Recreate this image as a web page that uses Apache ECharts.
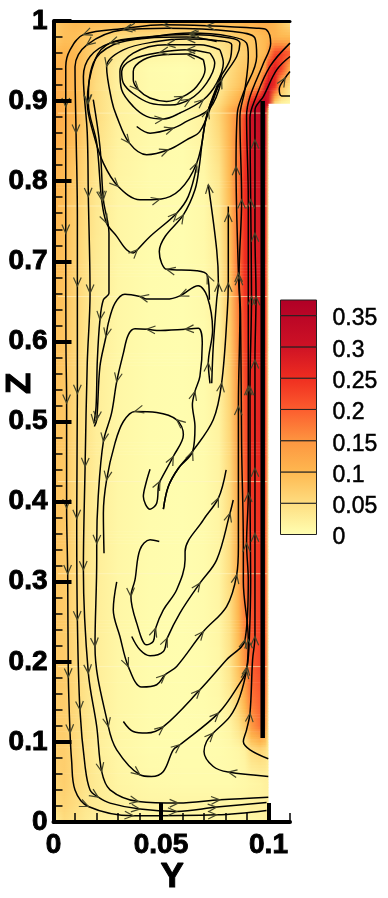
<!DOCTYPE html>
<html>
<head>
<meta charset="utf-8">
<style>html,body{margin:0;padding:0;background:#fff}#chart{width:388px;height:898px}</style>
<script src="https://cdn.jsdelivr.net/npm/echarts@6/dist/echarts.min.js"></script>
</head>
<body>
<div id="chart"></div>
<script>
// colour scale
var scaleValues = [0, 0.05, 0.1, 0.15, 0.2, 0.25, 0.3, 0.375];
var scaleColors = ['#FFFFB2', '#FEDD80', '#FEB850', '#FD9540', '#FC5C2E', '#EF2D20', '#CE1225', '#B00026'];
var colorbarLevels = [0, 0.05, 0.1, 0.15, 0.2, 0.25, 0.3, 0.35, 0.375];

// contour field
var fieldY = [0, 0.005, 0.01, 0.015, 0.02, 0.03, 0.045, 0.06, 0.07, 0.077, 0.082, 0.086, 0.089, 0.092, 0.096, 0.0985, 0.1, 0.103, 0.106, 0.11];
var fieldZ = [0, 0.02, 0.05, 0.09, 0.12, 0.16, 0.2, 0.3, 0.4, 0.5, 0.6, 0.7, 0.8, 0.88, 0.89, 0.8975, 0.92, 0.94, 0.96, 0.98, 1];
var fieldRows = [
    [.02, .05, .04, .03, .02, .015, .01, .01, .01, .01, .01, .01, .01, .01, .015, .02, .02],
    [.05, .06, .05, .035, .03, .02, .015, .015, .015, .015, .015, .015, .015, .02, .02, .02, .02],
    [.06, .07, .055, .04, .03, .015, .008, .006, .006, .006, .006, .008, .01, .012, .015, .02, .02],
    [.07, .07, .055, .04, .025, .012, .005, .004, .004, .005, .008, .012, .02, .05, .06, .05, .03],
    [.072, .07, .055, .04, .025, .012, .005, .003, .004, .006, .015, .04, .07, .14, .18, .15, .03],
    [.075, .072, .055, .04, .025, .012, .005, .003, .005, .01, .03, .07, .12, .18, .2, .18, .03],
    [.078, .074, .055, .04, .025, .012, .005, .003, .005, .012, .04, .09, .15, .2, .22, .2, .03],
    [.082, .076, .055, .04, .025, .012, .005, .003, .006, .015, .05, .11, .18, .22, .24, .21, .03],
    [.085, .08, .055, .04, .025, .012, .005, .003, .006, .015, .05, .12, .19, .24, .25, .22, .03],
    [.085, .08, .055, .04, .025, .012, .005, .003, .006, .018, .06, .14, .21, .25, .27, .24, .03],
    [.09, .082, .06, .04, .025, .012, .005, .003, .006, .02, .07, .16, .23, .26, .27, .25, .03],
    [.095, .088, .065, .045, .03, .012, .005, .003, .008, .025, .085, .18, .25, .27, .28, .26, .03],
    [.105, .095, .075, .055, .035, .015, .006, .004, .01, .035, .1, .18, .25, .28, .3, .28, .04],
    [.12, .11, .1, .07, .05, .02, .008, .006, .02, .06, .11, .16, .23, .3, .33, .33, .05],
    [.12, .11, .1, .07, .05, .02, .008, .006, .025, .06, .11, .15, .2, .3, .34, .34, .1],
    [.12, .11, .1, .075, .05, .02, .008, .006, .02, .05, .09, .12, .17, .27, .33, .35, .28, .05, .02, .01],
    [.115, .11, .1, .075, .05, .02, .006, .004, .01, .03, .06, .08, .1, .12, .15, .27, .31, .25, .1, .04],
    [.11, .11, .1, .08, .055, .02, .005, .002, .006, .02, .05, .07, .08, .09, .11, .15, .24, .28, .22, .1],
    [.1, .105, .1, .08, .06, .03, .015, .01, .015, .03, .05, .06, .07, .08, .09, .1, .15, .22, .23, .2],
    [.07, .09, .09, .08, .07, .05, .045, .04, .04, .05, .06, .07, .08, .08, .09, .1, .1, .11, .1, .1],
    [.08, .09, .1, .1, .1, .1, .1, .1, .1, .1, .1, .1, .11, .11, .12, .12, .12, .1, .08, .05]
];
var streakZ = [0.885, 0.769, 0.656, 0.425, 0.31, 0.194];
var wallLine = [[0.0973, 0.105], [0.0973, 0.9]];

// streamlines [y, z], third value 1 = arrow head there
var streamA = [[.0325,.1255],[.0371,.113],[.0433,.111],[.0511,.119,1],[.0681,.165,1],[.0805,.2025],[.0891,.2275,1],[.0906,.302],[.0898,.348,1],[.0906,.4105,1],[.0906,.5437,1],[.0906,.652],[.0906,.6935],[.0906,.777],[.0898,.881],[.0914,.9057],[.0976,.947],[.101,.972],[.0991,.989],[.0945,.991],[.0712,.994,1],[.0511,.9952,1],[.034,.991,1],[.0139,.983,1],[.0077,.964],[.0057,.943],[.0057,.893,1],[.0057,.818],[.0057,.735,1],[.0058,.594],[.0061,.523,1],[.0061,.392,1],[.0066,.31,1],[.0069,.181,1],[.0077,.111,1],[.0084,.0776],[.01,.04],[.0162,.0194,1],[.0371,.0078,1],[.0759,.009,1],[.0991,.0145]];
var streamB = [[.0294,.2999],[.0278,.265],[.0309,.2316],[.0348,.194,1],[.041,.1684],[.048,.1713],[.0519,.1838,1],[.0573,.1942],[.0697,.2378,1],[.0805,.269],[.0852,.3086,1],[.086,.344],[.086,.4688],[.086,.5188,1],[.0867,.6353],[.086,.6852,1],[.0849,.8184,1],[.0855,.885],[.0883,.91],[.0945,.9557],[.0937,.9786],[.0836,.9869],[.0526,.991],[.0325,.989,1],[.0154,.97,1],[.01,.943],[.0105,.86,1],[.0111,.757],[.0111,.669,1],[.0111,.535,1],[.0108,.379,1],[.0111,.2525,1],[.0123,.14,1],[.0147,.0693],[.017,.04],[.0208,.031,1],[.0263,.0236],[.0402,.0161,1],[.0573,.0132,1],[.0759,.0186,1],[.0991,.0244]];
var streamC = [[.0511,.3906],[.0534,.4189],[.0581,.4417],[.0647,.4625,1],[.0658,.4938],[.0646,.5208],[.0658,.5375,1],[.0681,.5563],[.0692,.5979],[.0673,.6164],[.0612,.6152,1],[.048,.6136],[.0433,.6152,1],[.0379,.6157],[.0348,.6082],[.0325,.5853],[.0294,.5499,1],[.027,.5104],[.0232,.4749,1],[.0208,.4063],[.0201,.3476,1],[.0201,.3273],[.0193,.2191,1],[.0255,.1193,1],[.0294,.0901],[.0402,.059,1],[.0456,.0568],[.0511,.0631],[.0557,.0901],[.0588,.0964,1],[.0767,.1359,1],[.0867,.1734],[.0898,.19,1],[.0906,.2275,1],[.0883,.3],[.0883,.344],[.0875,.4688],[.087,.635],[.0863,.681,1],[.0875,.7768,1],[.0867,.8808],[.089,.914],[.0906,.9557],[.0898,.9724],[.0821,.9808],[.0635,.9849,1],[.0418,.9787],[.0263,.9724,1],[.017,.9557],[.0139,.9307],[.0157,.86],[.0162,.7809,1],[.017,.6602,1],[.0157,.5729],[.0147,.4438,1],[.0139,.3149,1],[.0162,.1858,1],[.0201,.1192],[.0224,.0631,1],[.0263,.0402],[.0395,.0256,1],[.0581,.0236,1],[.0774,.0277,1],[.0999,.031]];
var streamD = [[.0185,.9017],[.0216,.8433],[.0232,.7768,1],[.0258,.7352],[.0258,.6602],[.0232,.6519],[.0216,.6269,1],[.0204,.577],[.0198,.5188],[.0188,.498,1]];
var streamE = [[.0697,.86],[.072,.889],[.0782,.9265],[.0852,.9557],[.0867,.9724],[.0821,.9787],[.0635,.983,1],[.0433,.98],[.0263,.9724],[.0193,.9515],[.0157,.8974,1],[.0185,.86],[.0232,.8225],[.0301,.7934,1],[.0402,.7768],[.0495,.7776,1],[.0588,.7893],[.0666,.8225,1],[.07,.864]];
var streamF = [[.0759,.9745],[.0619,.9799],[.0433,.9786],[.0278,.9703],[.0185,.9474],[.0162,.8974,1],[.0201,.8477],[.0224,.7768,1],[.0247,.7477,1],[.0294,.7311],[.034,.7144],[.0371,.7103],[.039,.7144,1],[.0449,.731],[.0573,.7601,1],[.0627,.781],[.0666,.8184]];
var streamG = [[.0725,.6519],[.0715,.6829,1],[.0666,.6883],[.0526,.69,1],[.0503,.6976],[.0492,.7123],[.0519,.731],[.0604,.7579,1],[.0658,.7892],[.0678,.8184],[.0697,.86],[.072,.889,1],[.0782,.9328]];
var streamH = [[.0728,.5477],[.072,.573,1],[.074,.6145],[.0715,.6561],[.0673,.6694],[.0588,.6569,1],[.0526,.6528],[.0433,.6528],[.0402,.6561,1],[.0332,.659],[.0286,.6478],[.0255,.6228],[.0244,.6061,1],[.0216,.5687],[.0201,.5021,1],[.019,.4938]];
var streamI = [[.0736,.5477],[.0743,.5937],[.0759,.652],[.0767,.6727,1],[.0759,.7144],[.072,.7955,1]];
var streamJ = [[.0511,.3906],[.0534,.4189],[.0581,.4417],[.065,.4639],[.0743,.5021],[.0782,.5478,1],[.0808,.6353],[.0813,.6727,1],[.0813,.76,1],[.0813,.7684]];
var streamK = [[.0449,.4404],[.043,.4229],[.0418,.4063],[.0449,.3906],[.048,.398],[.0488,.4189],[.0495,.4252,1],[.0557,.4563,1],[.0604,.4834],[.0573,.5021,1],[.048,.5113],[.0379,.5126,1],[.0325,.5],[.0286,.473],[.0247,.4272,1],[.0232,.3856],[.0235,.3356]];
var streamL = [[.0697,.9516],[.0619,.9587,1],[.0511,.9578],[.0418,.9516],[.0371,.9371],[.0371,.9266],[.0395,.9141,1],[.0449,.9038],[.0526,.8996],[.0604,.9059,1],[.0666,.9183],[.0705,.9391],[.0697,.9516]];
var streamM = [[.0728,.9599],[.0619,.9641,1],[.0495,.9608,1],[.0371,.9525],[.0317,.9371],[.0325,.9225],[.0371,.9092],[.0449,.8975],[.0542,.895],[.0635,.9024,1],[.0712,.9225],[.075,.9475],[.0728,.9599]];
var streamN = [[.0782,.9329],[.0821,.9516],[.0829,.9703],[.0759,.9757],[.0619,.9774,1],[.048,.9744],[.0325,.964],[.0247,.9433,1],[.027,.9017],[.0294,.8809],[.0353,.8475,1],[.0433,.8331],[.0534,.8392,1],[.0619,.8517],[.0681,.8621],[.0743,.9017],[.0782,.9329]];
var streamO = [[.0774,.9641],[.0681,.9703],[.0526,.9703,1],[.0371,.9599],[.0309,.9371],[.0317,.9141],[.0371,.8933],[.0433,.881],[.0511,.8777,1],[.0588,.8851],[.0697,.9017,1],[.0759,.9225],[.079,.9475],[.0774,.9641]];
var streamP = [[.0387,.8683],[.0449,.86],[.0557,.8662,1],[.0619,.8746],[.0728,.8912],[.0782,.9265,1]];
var streamQ = [[.0999,.079],[.0914,.0901],[.0883,.1005],[.0898,.1151],[.0914,.1359,1],[.0926,.2025],[.0937,.2316,1],[.0937,.3606,1],[.0937,.4418,1],[.0937,.5769,1],[.0942,.6561,1],[.0937,.7352,1],[.0937,.8517,1],[.0937,.8886],[.0976,.9057],[.1038,.939],[.11,.9557]];
var streamR = [[.0999,.0569],[.0813,.0623,1],[.0743,.0693],[.07,.0881],[.0712,.1005],[.0743,.111,1],[.0821,.1318],[.0867,.1567],[.0901,.1942,1],[.0911,.2295],[.0917,.3023],[.0914,.4105],[.0914,.5437,1],[.0921,.6561,1],[.0917,.7768,1],[.0914,.8798],[.0937,.9017],[.1007,.9433],[.11,.9724]];
var streamS = [[.0364,.2316],[.0402,.215],[.0449,.2075],[.0511,.2129],[.0529,.2295,1],[.0588,.2608],[.0681,.2982,1],[.0759,.3273],[.0821,.3856,1],[.0836,.402]];
var streamT = [[.0492,.3502],[.0449,.3523],[.0402,.34],[.0379,.3023],[.036,.2816,1],[.0387,.2483],[.0433,.2212],[.0464,.2254],[.0475,.242,1],[.0511,.2649],[.0573,.29],[.0612,.3273],[.0612,.3376],[.0697,.3772],[.0767,.4043,1],[.0803,.4397]];
var streamU = [[.11,.9065],[.1061,.9065],[.105,.915],[.1077,.9287,1],[.11,.937]];
var streamlines = [streamA, streamB, streamC, streamD, streamE, streamF, streamG, streamH, streamI, streamJ, streamK, streamL, streamM, streamN, streamO, streamP, streamQ, streamR, streamS, streamT, streamU];

var fontName = '"Liberation Sans", Arial, sans-serif';
var ink = '#000';

function hexToRgb(h) {
    return [parseInt(h.substr(1, 2), 16), parseInt(h.substr(3, 2), 16), parseInt(h.substr(5, 2), 16)];
}
function colorOf(v) {
    var i = 0;
    while (i < scaleValues.length - 2 && v > scaleValues[i + 1]) i++;
    var t = (v - scaleValues[i]) / (scaleValues[i + 1] - scaleValues[i]);
    t = Math.max(0, Math.min(1, t));
    var a = hexToRgb(scaleColors[i]), b = hexToRgb(scaleColors[i + 1]);
    return 'rgb(' + Math.round(a[0] + (b[0] - a[0]) * t) + ',' + Math.round(a[1] + (b[1] - a[1]) * t) + ',' + Math.round(a[2] + (b[2] - a[2]) * t) + ')';
}

// one band of the field between two rows, shaded like the contour flood
function renderField(params, api) {
    var idx = api.value(0);
    var low = fieldRows[idx], high = fieldRows[idx + 1];
    var n = Math.min(low.length, high.length);
    var yEnd = fieldY[n - 1];
    var p0 = api.coord([0, fieldZ[idx]]), p1 = api.coord([yEnd, fieldZ[idx + 1]]);
    var h = p0[1] - p1[1];
    var steps = Math.max(1, Math.ceil(h / 3));
    var children = [];
    for (var k = 0; k < steps; k++) {
        var t = (k + 0.5) / steps;
        var stops = [];
        for (var j = 0; j < n; j++) {
            stops.push({offset: fieldY[j] / yEnd, color: colorOf(low[j] + (high[j] - low[j]) * t)});
        }
        var top = p0[1] - h * (k + 1) / steps;
        children.push({
            type: 'rect',
            shape: {x: p0[0], y: top, width: p1[0] - p0[0], height: h / steps + 0.6},
            style: {fill: new echarts.graphic.LinearGradient(0, 0, 1, 0, stops)}
        });
    }
    return {type: 'group', children: children};
}

function renderColorbar(params, api) {
    var lo = api.value(0), hi = api.value(1);
    var a = api.coord([0, lo]), b = api.coord([1, hi]);
    return {
        type: 'rect',
        shape: {x: a[0], y: b[1], width: b[0] - a[0], height: a[1] - b[1]},
        style: {
            fill: new echarts.graphic.LinearGradient(0, 0, 0, 1, [
                {offset: 0, color: colorOf(hi)},
                {offset: 1, color: colorOf(lo)}
            ]),
            stroke: '#222',
            lineWidth: 1
        }
    };
}

// open V arrow head at a streamline point
function renderArrow(params, api) {
    var tip = api.coord([api.value(0), api.value(1)]);
    var from = api.coord([api.value(2), api.value(3)]);
    var to = api.coord([api.value(4), api.value(5)]);
    var a = Math.atan2(to[1] - from[1], to[0] - from[0]);
    var len = 9.5, spread = 0.42;
    return {
        type: 'polyline',
        shape: {points: [
            [tip[0] - len * Math.cos(a - spread), tip[1] - len * Math.sin(a - spread)],
            tip,
            [tip[0] - len * Math.cos(a + spread), tip[1] - len * Math.sin(a + spread)]
        ]},
        style: {stroke: '#45452a', lineWidth: 1.2, fill: null}
    };
}

var fieldBands = [];
for (var b = 0; b < fieldRows.length - 1; b++) fieldBands.push([b]);

var colorbarBands = [];
for (var c = 0; c < colorbarLevels.length - 1; c++) colorbarBands.push([colorbarLevels[c], colorbarLevels[c + 1]]);

var arrowData = [];
streamlines.forEach(function (line) {
    line.forEach(function (p, i) {
        if (p[2]) {
            var prev = line[Math.max(0, i - 1)], next = line[Math.min(line.length - 1, i + 1)];
            arrowData.push([p[0], p[1], prev[0], prev[1], next[0], next[1]]);
        }
    });
});

var series = [{
    type: 'custom',
    xAxisIndex: 0,
    yAxisIndex: 0,
    coordinateSystem: 'cartesian2d',
    renderItem: renderField,
    data: fieldBands,
    encode: {x: -1, y: -1},
    silent: true,
    clip: false,
    z: 1
}];
streakZ.forEach(function (z) {
    series.push({
        type: 'line',
        xAxisIndex: 0,
        yAxisIndex: 0,
        data: [[0.002, z], [0.0995, z]],
        symbol: 'none',
        silent: true,
        lineStyle: {color: '#FFF6C8', width: 1, opacity: 0.6},
        z: 2
    });
});
series.push({
    type: 'line',
    xAxisIndex: 0,
    yAxisIndex: 0,
    data: wallLine,
    symbol: 'none',
    silent: true,
    lineStyle: {color: ink, width: 4.5, cap: 'butt'},
    z: 5
});
streamlines.forEach(function (line) {
    series.push({
        type: 'line',
        xAxisIndex: 0,
        yAxisIndex: 0,
        data: line.map(function (p) { return [p[0], p[1]]; }),
        symbol: 'none',
        smooth: 0.35,
        silent: true,
        lineStyle: {color: '#000', width: 1.5},
        z: 3
    });
});
series.push({
    type: 'custom',
    xAxisIndex: 0,
    yAxisIndex: 0,
    coordinateSystem: 'cartesian2d',
    renderItem: renderArrow,
    data: arrowData,
    encode: {x: 0, y: 1},
    silent: true,
    z: 4
});
series.push({
    type: 'custom',
    xAxisIndex: 3,
    yAxisIndex: 1,
    coordinateSystem: 'cartesian2d',
    renderItem: renderColorbar,
    data: colorbarBands,
    encode: {y: [0, 1]},
    silent: true,
    z: 2
});

var chart = echarts.init(document.getElementById('chart'));
var option = {
    animation: false,
    backgroundColor: '#fff',
    grid: [
        {left: 53.5, top: 21, width: 236.5, height: 801},
        {left: 280.5, top: 300, width: 36, height: 234.5, show: false},
        // colorbar labels sit a little below their levels
        {left: 280.5, top: 303.5, width: 36, height: 234.5, show: false}
    ],
    xAxis: [{
        // minor ticks
        type: 'value', gridIndex: 0, min: 0, max: 0.11, interval: 0.01, z: 6,
        splitLine: {show: false},
        axisLine: {onZero: false, lineStyle: {color: ink, width: 4}},
        axisTick: {inside: true, length: 9, lineStyle: {color: ink, width: 1.5}},
        axisLabel: {show: false}
    }, {
        // major ticks with labels
        type: 'value', gridIndex: 0, min: 0, max: 0.11, position: 'bottom', z: 6,
        splitLine: {show: false},
        axisLine: {show: false, onZero: false},
        axisTick: {show: true, inside: true, length: 19, customValues: [0, 0.05, 0.1], lineStyle: {color: ink, width: 4}},
        axisLabel: {
            customValues: [0, 0.05, 0.1], margin: 9,
            color: ink, fontFamily: fontName, fontWeight: 'bold', fontSize: 28,
            textBorderColor: ink, textBorderWidth: 0.9
        }
    }, {
        type: 'value', gridIndex: 0, min: 0, max: 0.11, position: 'top', z: 6,
        splitLine: {show: false},
        axisLine: {onZero: false, lineStyle: {color: ink, width: 3}},
        axisTick: {show: false},
        axisLabel: {show: false}
    }, {
        type: 'value', gridIndex: 1, min: 0, max: 1, show: false
    }, {
        type: 'value', gridIndex: 2, min: 0, max: 1, show: false
    }],
    yAxis: [{
        type: 'value', gridIndex: 0, min: 0, max: 1, interval: 0.1, z: 6,
        splitLine: {show: false},
        axisLine: {onZero: false, lineStyle: {color: ink, width: 4}},
        axisTick: {inside: true, length: 18, lineStyle: {color: ink, width: 4}},
        minorTick: {show: true, splitNumber: 5, length: 9, lineStyle: {color: ink, width: 1.5}},
        axisLabel: {
            margin: 6, color: ink, fontFamily: fontName, fontWeight: 'bold', fontSize: 28,
            textBorderColor: ink, textBorderWidth: 0.9
        }
    }, {
        type: 'value', gridIndex: 1, min: 0, max: 0.375, show: false
    }, {
        type: 'value', gridIndex: 2, min: 0, max: 0.375, interval: 0.05, position: 'right',
        splitLine: {show: false},
        axisLine: {show: false, onZero: false},
        axisTick: {show: false},
        axisLabel: {
            margin: 16, showMaxLabel: false, color: ink, fontFamily: fontName, fontSize: 23,
            textBorderColor: ink, textBorderWidth: 0.5
        }
    }],
    graphic: [{
        type: 'text', left: 2, top: 372, rotation: Math.PI / 2,
        style: {text: 'Z', fill: ink, stroke: ink, lineWidth: 1, font: 'bold 35px ' + fontName}
    }, {
        type: 'text', left: 160, top: 859,
        style: {text: 'Y', fill: ink, stroke: ink, lineWidth: 1, font: 'bold 35px ' + fontName}
    }],
    series: series
};
chart.setOption(option);
</script>
</body>
</html>
